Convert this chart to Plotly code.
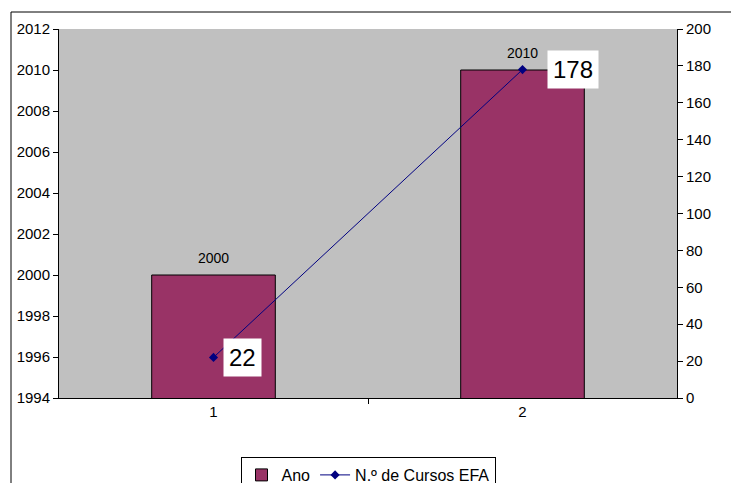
import plotly.graph_objects as go

categories = [1, 2]
ano = [2000, 2010]
cursos = [22, 178]
left_ticks = list(range(1994, 2013, 2))
right_ticks = list(range(0, 201, 20))

W, H = 731, 483
L, R, T, B = 59, 54, 29, 85
pw, ph = W - L - R, H - T - B

FONT = "Liberation Sans, Arial"

fig = go.Figure()
fig.add_trace(go.Bar(
    x=categories, y=ano, name="Ano", width=0.4,
    marker=dict(color="#993366", line=dict(color="#000000", width=1)),
))
fig.add_trace(go.Scatter(
    x=categories, y=cursos, name="N.º de Cursos EFA", yaxis="y2",
    mode="lines+markers",
    line=dict(color="#000080", width=1),
    marker=dict(symbol="diamond", size=7, color="#000080"),
))
for c, v in zip(categories, ano):
    fig.add_annotation(
        x=c, y=v, xref="x", yref="y", text=str(v), showarrow=False,
        yanchor="bottom", yshift=7,
        font=dict(family=FONT, size=14, color="#000000"),
    )
label_shifts = [9, 24]
for c, v, s in zip(categories, cursos, label_shifts):
    fig.add_annotation(
        x=c, y=v, xref="x", yref="y2", text=str(v), showarrow=False,
        xanchor="left", xshift=s, yshift=0,
        bgcolor="#ffffff", borderpad=5,
        font=dict(family=FONT, size=24, color="#000000"),
    )

# outer chart frame
fig.add_shape(type="rect", xref="paper", yref="paper",
              x0=(11 - L) / pw, x1=(735 - L) / pw,
              y0=(T + ph - 490) / ph, y1=1 + (T - 12) / ph,
              line=dict(color="#000000", width=1), fillcolor="rgba(0,0,0,0)", layer="below")

axis_font = dict(family=FONT, size=15, color="#000000")
fig.update_layout(
    width=W, height=H,
    margin=dict(l=L, r=R, t=T, b=B, autoexpand=False),
    paper_bgcolor="#ffffff", plot_bgcolor="#c0c0c0",
    showlegend=True,
    legend=dict(orientation="h", x=0.5, xanchor="center", y=(398 - 457) / ph, yanchor="top",
                bordercolor="#000000", borderwidth=1, bgcolor="#ffffff",
                font=dict(family=FONT, size=16, color="#000000"),
                itemwidth=30, tracegroupgap=0),
    xaxis=dict(range=[0.5, 2.5], tickmode="array", tickvals=categories,
               ticktext=[str(c) for c in categories], ticks="", showgrid=False,
               showline=True, linecolor="#000000", linewidth=1, zeroline=False,
               tickfont=axis_font,
               minor=dict(tickmode="array", tickvals=[1.5], ticks="outside", ticklen=5,
                          tickcolor="#000000", showgrid=False)),
    yaxis=dict(range=[1994, 2012], tickmode="array", tickvals=left_ticks,
               ticks="outside", ticklen=5, tickcolor="#000000",
               showgrid=False, showline=True, linecolor="#000000", linewidth=1,
               zeroline=False, tickfont=axis_font),
    yaxis2=dict(range=[0, 200], tickmode="array", tickvals=right_ticks,
                overlaying="y", side="right",
                ticks="outside", ticklen=5, tickcolor="#000000",
                showgrid=False, showline=True, linecolor="#000000", linewidth=1,
                zeroline=False, tickfont=axis_font),
)
fig.write_html("out.html")
